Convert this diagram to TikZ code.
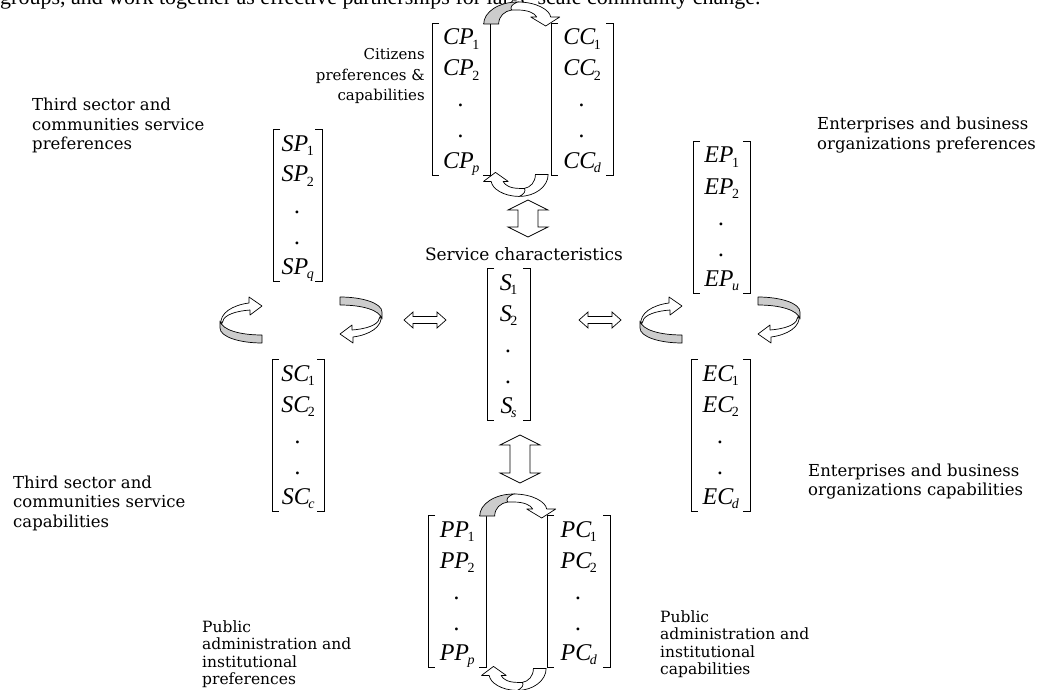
\documentclass[tikz,border=0pt]{standalone}
\usepackage{fontspec}
\setmainfont{DejaVu Serif}
\newfontfamily\entfont{Liberation Serif}
\newfontfamily\topfont{Liberation Serif}
\usetikzlibrary{calc}
\newcommand\sbs[1]{\kern-1.5pt\raisebox{-4.5pt}{\fontsize{14}{14}\selectfont#1}}
\newcommand\vmat[9]{%
  \node[inner sep=0, minimum width=#4, minimum height=152, anchor=north west] (#1) at (#2,#3) {};
  \draw[brk] ([xshift=7pt]#1.north west) -- (#1.north west) -- (#1.south west) -- ([xshift=7pt]#1.south west);
  \draw[brk] ([xshift=-7pt]#1.north east) -- (#1.north east) -- (#1.south east) -- ([xshift=-7pt]#1.south east);
  \node[ent] (#1-1) at ([yshift=-22pt]#1.north) {#5};
  \node[ent] (#1-2) at ([yshift=-53pt]#1.north) {#6};
  \node[ent] (#1-3) at ([yshift=-84pt]#1.north) {#7};
  \node[ent] (#1-4) at ([yshift=-115pt]#1.north) {#8};
  \node[ent] (#1-5) at ([yshift=-145pt]#1.north) {#9};
}
\tikzset{
  lbl/.style={inner sep=0, anchor=base west, font=\fontsize{16.5}{19.5}\selectfont},
  ent/.style={inner sep=0, anchor=base, font=\entfont\fontsize{24}{24}\selectfont\itshape},
  brk/.style={line width=0.8pt},
  blk/.style={draw, line width=0.7pt, fill=white, line join=miter},
  rib/.style={draw, line width=0.7pt, fill=white, line join=round},
  ribg/.style={draw, line width=0.7pt, fill=gray!40, line join=round},
  pics/vdbl/.style={code={
    \path[blk] (0,-#1) -- (20,-#1+10) -- (10,-#1+10) -- (10,#1-10) -- (20,#1-10) -- (0,#1)
      -- (-20,#1-10) -- (-10,#1-10) -- (-10,-#1+10) -- (-20,-#1+10) -- cycle;}},
  pics/hdbl/.style={code={
    \path[blk] (-21,0) -- (-12,-8) -- (-12,-3.5) -- (12,-3.5) -- (12,-8) -- (21,0)
      -- (12,8) -- (12,3.5) -- (-12,3.5) -- (-12,8) -- cycle;}},
  pics/ribbon/.style={code={
    \fill[white] (-37,1) .. controls (-37,-11) and (-22,-21) .. (-3,-21)
      .. controls (16,-21) and (29,-13) .. (30,-6) -- (39,-6) -- (25,3) -- (10,-6) -- (16,-6)
      .. controls (14,-10) and (7,-13) .. (-3,-13) .. controls (-14,-13) and (-22,-7) .. (-22,1) -- cycle;
    \path[draw, line width=0.7pt, fill=#1] (-37,1) .. controls (-37,-11) and (-22,-21) .. (-3,-21)
      .. controls (-9,-19) and (-11,-15) .. (-9,-13)
      .. controls (-16,-12) and (-22,-7) .. (-22,1) -- cycle;
    \draw[line width=0.7pt, line join=round] (-3,-21)
      .. controls (16,-21) and (29,-13) .. (30,-6) -- (39,-6) -- (25,3) -- (10,-6) -- (16,-6)
      .. controls (14,-10) and (7,-13) .. (-3,-13) -- (-9,-13);}},
  pics/circ/.style={code={
    \path[rib] (-20,5) .. controls (-22,-7) and (-8,-15) .. (8,-17) -- (8,-23) -- (21,-14)
      -- (9,-5) -- (9,-10) .. controls (-5,-9) and (-17,-5) .. (-18,1) -- cycle;
    \path[ribg] (-21,1) .. controls (-19,10) and (-1,15) .. (21,15) -- (21,23)
      .. controls (-1,23) and (-21,17) .. (-21,8) -- cycle;}},
}
\begin{document}
\begin{tikzpicture}[x=1pt,y=-1pt]
\useasboundingbox (0,0) rectangle (1052,690);
\node[anchor=base west, inner sep=0, font=\topfont\fontsize{22}{24}\selectfont] (intro) at (0,5)
  {groups, and work together as effective partnerships for large-scale community change.};

% matrices
\vmat{cp}{432}{23}{58}{CP\sbs{\upshape 1}}{CP\sbs{\upshape 2}}{.}{.}{CP\sbs{p}}
\vmat{cc}{551}{23}{62}{CC\sbs{\upshape 1}}{CC\sbs{\upshape 2}}{.}{.}{CC\sbs{d}}
\vmat{sp}{273}{129}{49}{SP\sbs{\upshape 1}}{SP\sbs{\upshape 2}}{.}{.}{SP\sbs{q}}
\vmat{s}{487}{268}{43}{S\sbs{\upshape 1}}{S\sbs{\upshape 2}}{.}{.}{S\sbs{s}}
\vmat{ep}{693}{141}{57}{EP\sbs{\upshape 1}}{EP\sbs{\upshape 2}}{.}{.}{EP\sbs{u}}
\vmat{sc}{272}{359}{52}{SC\sbs{\upshape 1}}{SC\sbs{\upshape 2}}{.}{.}{SC\sbs{c}}
\vmat{ec}{691}{359}{59}{EC\sbs{\upshape 1}}{EC\sbs{\upshape 2}}{.}{.}{EC\sbs{d}}
\vmat{pp}{428}{515}{58}{PP\sbs{\upshape 1}}{PP\sbs{\upshape 2}}{.}{.}{PP\sbs{p}}
\vmat{pc}{547}{515}{63}{PC\sbs{\upshape 1}}{PC\sbs{\upshape 2}}{.}{.}{PC\sbs{d}}

% labels
\node[lbl] (lsp) at (32,111) {\begin{tabular}[t]{@{}l@{}}Third sector and\\communities service\\preferences\end{tabular}};
\node[lbl] (lsc) at (13,488) {\begin{tabular}[t]{@{}l@{}}Third sector and\\communities service\\capabilities\end{tabular}};
\node[lbl] (lep) at (817,130) {\begin{tabular}[t]{@{}l@{}}Enterprises and business\\organizations preferences\end{tabular}};
\node[lbl] (lec) at (808,476) {\begin{tabular}[t]{@{}l@{}}Enterprises and business\\organizations capabilities\end{tabular}};
\node[lbl, font=\fontsize{15.5}{17.5}\selectfont] (lpp) at (202,632) {\begin{tabular}[t]{@{}l@{}}Public\\administration and\\institutional\\preferences\end{tabular}};
\node[lbl, font=\fontsize{15.5}{17.5}\selectfont] (lpc) at (660,622) {\begin{tabular}[t]{@{}l@{}}Public\\administration and\\institutional\\capabilities\end{tabular}};
\node[lbl, anchor=base east, font=\fontsize{15}{20.5}\selectfont] (lcit) at (425,60) {\begin{tabular}[t]{@{}r@{}}Citizens\\preferences \&\\capabilities\end{tabular}};
\node[lbl, anchor=base, font=\fontsize{17}{20}\selectfont] (ls) at (524,260) {Service characteristics};

% ribbon arrows between preference and capability matrices
\pic at ($(cp.north east)!.5!(cc.north west)$) {ribbon=gray!40};
\pic[rotate=180, xscale=0.85] at ($(cp.south east)!.5!(cc.south west)+(-4,0)$) {ribbon=white};
\pic at ($(pp.north east)!.5!(pc.north west)$) {ribbon=gray!40};
\pic[rotate=180, xscale=0.85] at ($(pp.south east)!.5!(pc.south west)+(-2,2)$) {ribbon=white};

% circular arrows
\coordinate (c1) at (241,320);
\coordinate (c2) at (361,320);
\coordinate (c3) at (661,320);
\coordinate (c4) at (779,320);
\pic at (c1) {circ};
\pic[rotate=180] at (c2) {circ};
\pic at (c3) {circ};
\pic[rotate=180] at (c4) {circ};

% double block arrows
\coordinate (h1) at (425,320);
\coordinate (h2) at (600,320);
\coordinate (v1) at (528,218.5);
\coordinate (v2) at (520,459);
\pic at (h1) {hdbl};
\pic at (h2) {hdbl};
\pic at (v1) {vdbl=18.5};
\pic at (v2) {vdbl=24};
\end{tikzpicture}
\end{document}
